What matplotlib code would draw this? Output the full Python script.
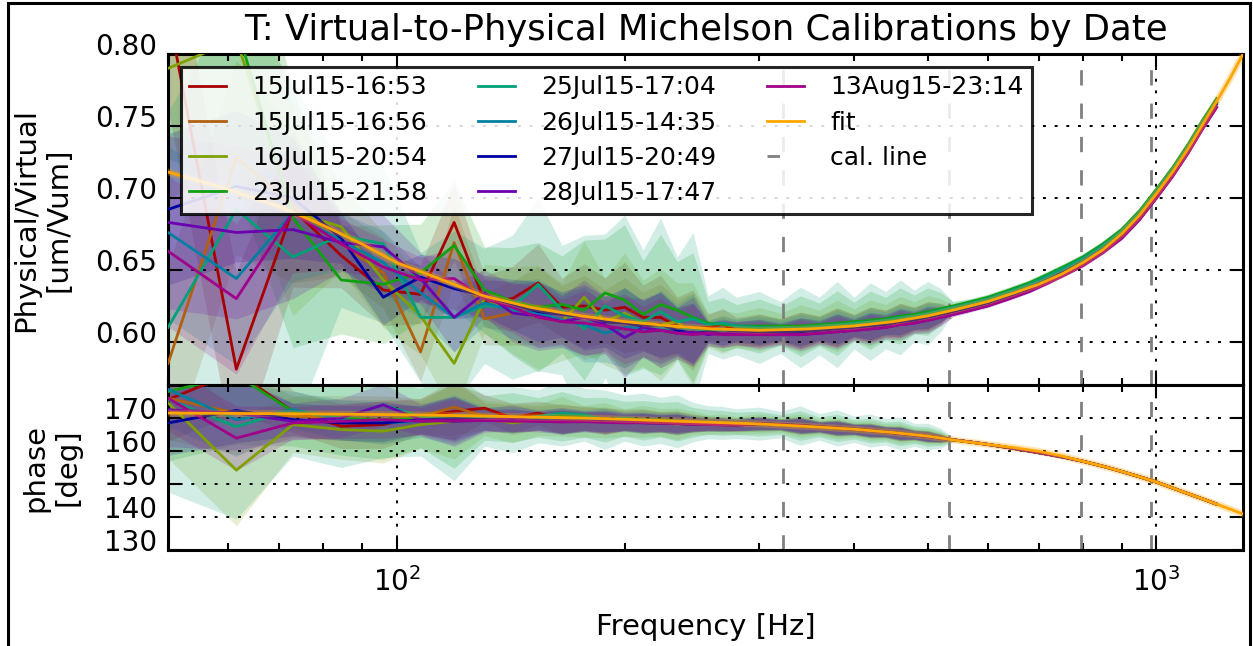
import numpy as np
import matplotlib
matplotlib.use('Agg')
import matplotlib.pyplot as plt
import matplotlib.transforms as mtransforms
from matplotlib.patches import Rectangle
from matplotlib.lines import Line2D

# measurement dates
labels = ['15Jul15-16:53', '15Jul15-16:56', '16Jul15-20:54', '23Jul15-21:58',
          '25Jul15-17:04', '26Jul15-14:35', '27Jul15-20:49', '28Jul15-17:47',
          '13Aug15-23:14']
colors = ['#a80000', '#b06010', '#80a000', '#10a010', '#00a078',
          '#0080a0', '#0000a0', '#6a00b0', '#a0008a']

# low frequency points, every run scatters here
freq_lo = [50, 61.5, 73, 84.5, 96, 107.5, 119, 130.5, 142, 153.5, 165, 176.5,
           188, 199.5, 211, 222.5, 234, 245.5, 257, 268.5, 280]

mag_1553 = [0.83, 0.581, 0.692, 0.660, 0.636, 0.633, 0.683, 0.628, 0.630, 0.641, 0.624,
            0.625, 0.622, 0.624, 0.617, 0.617, 0.611, 0.609, 0.610, 0.612, 0.608]
mag_1556 = [0.585, 0.728, 0.695, 0.668, 0.648, 0.593, 0.669, 0.616, 0.620, 0.625, 0.619,
            0.617, 0.614, 0.613, 0.612, 0.611, 0.609, 0.607, 0.606, 0.607, 0.606]
mag_2054 = [0.79, 0.81, 0.690, 0.680, 0.643, 0.618, 0.585, 0.630, 0.622, 0.617, 0.614,
            0.631, 0.614, 0.620, 0.613, 0.612, 0.614, 0.605, 0.608, 0.607, 0.608]
mag_2158 = [0.84, 0.82, 0.686, 0.643, 0.640, 0.648, 0.667, 0.636, 0.628, 0.624, 0.626,
            0.622, 0.634, 0.629, 0.619, 0.626, 0.622, 0.617, 0.613, 0.612, 0.611]
mag_1704 = [0.610, 0.692, 0.659, 0.674, 0.668, 0.617, 0.617, 0.625, 0.624, 0.640, 0.622,
            0.609, 0.625, 0.618, 0.614, 0.621, 0.614, 0.616, 0.612, 0.613, 0.611]
mag_1435 = [0.676, 0.644, 0.690, 0.670, 0.655, 0.634, 0.617, 0.627, 0.622, 0.620, 0.615,
            0.612, 0.606, 0.610, 0.609, 0.610, 0.608, 0.609, 0.607, 0.608, 0.608]
mag_2049 = [0.692, 0.708, 0.700, 0.672, 0.631, 0.645, 0.637, 0.632, 0.626, 0.621, 0.619,
            0.617, 0.614, 0.613, 0.611, 0.612, 0.608, 0.606, 0.607, 0.606, 0.607]
mag_1747 = [0.683, 0.676, 0.678, 0.669, 0.666, 0.644, 0.617, 0.634, 0.620, 0.618, 0.614,
            0.617, 0.612, 0.603, 0.610, 0.608, 0.606, 0.607, 0.605, 0.606, 0.606]
mag_2314 = [0.663, 0.630, 0.690, 0.668, 0.652, 0.643, 0.644, 0.630, 0.624, 0.617, 0.614,
            0.613, 0.611, 0.609, 0.607, 0.608, 0.606, 0.605, 0.606, 0.605, 0.605]

ph_1553 = [175.6, 184, 172, 167.5, 168, 170.5, 172, 173, 170, 171.5, 169.5,
           170, 169, 169.5, 169.2, 168.8, 168.5, 168.5, 168.3, 168.2, 168]
ph_1556 = [176, 171.5, 170.5, 170, 169.5, 170.5, 173.3, 170.5, 169.5, 170, 169.8,
           169.6, 169.3, 169, 168.9, 168.8, 168.6, 168.4, 168.3, 168.1, 168]
ph_2054 = [174.6, 154.2, 168, 166.5, 166, 168, 169, 170, 168.5, 169.5, 170.5,
           169, 169.3, 168.6, 169, 168.7, 168.2, 168.5, 168, 168.2, 167.8]
ph_2158 = [178, 183, 172, 170, 169.5, 170, 169, 170, 170.2, 170.2, 170.5,
           170.2, 169.5, 169.8, 169.3, 169.5, 169, 168.7, 168.8, 168.5, 168.4]
ph_1704 = [175.6, 167.4, 172.5, 170, 174, 170.5, 170, 170.5, 169.5, 170.5, 171.5,
           171, 169.5, 170, 169.5, 169.3, 169, 168.8, 168.7, 168.5, 168.3]
ph_1435 = [178.7, 169.5, 172.5, 169.5, 168.5, 169, 169.5, 169.8, 169.5, 169.5, 169,
           169.2, 169.4, 168.8, 168.7, 168.6, 168.4, 168.3, 168.2, 168, 167.9]
ph_2049 = [168.5, 172.3, 169.5, 168.5, 168.5, 169.5, 169.8, 169.5, 169.3, 169.2, 169,
           169.1, 168.9, 168.8, 168.6, 168.5, 168.4, 168.2, 168.1, 168, 167.8]
ph_1747 = [172.5, 171.5, 169, 170, 174, 169.5, 169, 169.3, 170, 169, 169.2,
           169, 168.8, 169, 168.5, 168.6, 168.3, 168.2, 168, 168.1, 167.9]
ph_2314 = [176, 163.9, 168.5, 169, 169.5, 169, 169.2, 169.3, 169, 169, 168.8,
           168.9, 168.7, 168.5, 168.6, 168.4, 168.3, 168.1, 168, 167.9, 167.8]

# higher frequencies, all runs sit on top of each other
freq_hi = [300, 320, 340, 360, 380, 400, 420, 440, 460, 480, 500, 520, 540, 570,
           600, 640, 680, 720, 760, 800, 850, 900, 950, 1000, 1050, 1100, 1150, 1200]
mag_hi = [0.608, 0.608, 0.608, 0.609, 0.610, 0.611, 0.612, 0.613, 0.615, 0.616,
          0.618, 0.620, 0.622, 0.625, 0.628, 0.633, 0.638, 0.644, 0.650, 0.656,
          0.665, 0.675, 0.688, 0.703, 0.718, 0.734, 0.751, 0.766]
ph_hi = [168.3, 168.0, 167.7, 167.3, 167.0, 166.6, 166.2, 165.8, 165.3, 164.9,
         164.4, 163.9, 163.4, 162.7, 162.0, 161.0, 160.0, 159.0, 158.0, 156.9,
         155.4, 153.8, 152.2, 150.6, 148.8, 147.1, 145.5, 143.9]
mag_offset = [0.000, 0.000, 0.001, 0.003, 0.002, 0.000, -0.001, -0.003, -0.003]

# uncertainty half widths (widest run), and how wide each run is relative to it
band_mag_lo = [0.15, 0.15, 0.12, 0.05, 0.055, 0.045, 0.06, 0.04, 0.05, 0.06, 0.045,
               0.065, 0.05, 0.07, 0.05, 0.065, 0.045, 0.06, 0.02, 0.025, 0.02]
band_mag_hi = [0.025, 0.018, 0.028, 0.02, 0.03, 0.018, 0.027, 0.02, 0.026, 0.018,
               0.022, 0.015, 0.004, 0.003, 0.003, 0.003, 0.003, 0.003, 0.003, 0.003,
               0.003, 0.003, 0.003, 0.003, 0.003, 0.003, 0.003, 0.003]
band_ph_lo = [28, 28, 14, 15, 16, 12, 19, 9, 10, 8, 10, 8, 9, 7, 8, 7, 8, 6, 5, 5, 4.5]
band_ph_hi = [5, 4, 6, 4, 5.5, 4, 5, 4, 5, 3.5, 4, 3, 0.6, 0.5, 0.5, 0.5, 0.5, 0.5,
              0.5, 0.5, 0.5, 0.5, 0.5, 0.5, 0.5, 0.5, 0.5, 0.5]
band_scale = [0.45, 0.45, 0.6, 0.75, 1.0, 0.4, 0.35, 0.4, 0.35]

# fitted model
fit_freq = [50, 60, 70, 80, 90, 100, 115, 130, 150, 175, 200, 230, 260, 300, 350, 400,
            450, 500, 550, 600, 650, 700, 750, 800, 850, 900, 950, 1000, 1050, 1100,
            1150, 1200, 1250, 1300]
fit_mag = [0.718, 0.706, 0.694, 0.681, 0.668, 0.655, 0.643, 0.632, 0.624, 0.618, 0.614,
           0.611, 0.609, 0.608, 0.609, 0.611, 0.614, 0.618, 0.623, 0.628, 0.634, 0.640,
           0.647, 0.655, 0.664, 0.675, 0.688, 0.703, 0.718, 0.734, 0.751, 0.767, 0.783,
           0.800]
fit_phase = [171.5, 171.4, 171.3, 171.2, 171.1, 171.0, 170.8, 170.6, 170.3, 170.0,
             169.6, 169.1, 168.7, 168.2, 167.4, 166.6, 165.6, 164.5, 163.1, 162.0,
             161.0, 159.9, 158.5, 156.9, 155.4, 153.8, 152.2, 150.6, 148.8, 147.1,
             145.5, 143.9, 142.4, 140.9]

cal_lines = [322, 534, 796, 984]

mags_lo = [mag_1553, mag_1556, mag_2054, mag_2158, mag_1704, mag_1435, mag_2049,
           mag_1747, mag_2314]
phs_lo = [ph_1553, ph_1556, ph_2054, ph_2158, ph_1704, ph_1435, ph_2049, ph_1747,
          ph_2314]

fig = plt.figure(figsize=(12.53, 6.46), dpi=100)
ax1 = fig.add_axes([0.1341, 0.404, 0.8579, 0.5124])
ax2 = fig.add_axes([0.1341, 0.1486, 0.8579, 0.2554], sharex=ax1)

freq = np.array(freq_lo + freq_hi)
bm = np.array(band_mag_lo + band_mag_hi)
bp = np.array(band_ph_lo + band_ph_hi)

for k in range(len(labels)):
    m = np.array(mags_lo[k] + [v + mag_offset[k] for v in mag_hi])
    p = np.array(phs_lo[k] + ph_hi)
    s = band_scale[k]
    ax1.fill_between(freq, m - bm * s, m + bm * s, color=colors[k], alpha=0.18, lw=0, zorder=1)
    ax2.fill_between(freq, p - bp * s, p + bp * s, color=colors[k], alpha=0.18, lw=0, zorder=1)

for ax in (ax1, ax2):
    for f in cal_lines:
        ax.axvline(f, color='gray', ls='--', dashes=(5.5, 6.5), lw=2, zorder=2)

handles = []
for k in range(len(labels)):
    m = mags_lo[k] + [v + mag_offset[k] for v in mag_hi]
    p = phs_lo[k] + ph_hi
    h, = ax1.plot(freq, m, color=colors[k], lw=2, label=labels[k], zorder=3)
    ax2.plot(freq, p, color=colors[k], lw=2, zorder=3)
    handles.append(h)

for ax, y in ((ax1, fit_mag), (ax2, fit_phase)):
    ax.plot(fit_freq, y, color='#ffa500', lw=5, alpha=0.3, zorder=4)
hf, = ax1.plot(fit_freq, fit_mag, color='#ffa500', lw=2, label='fit', zorder=4)
ax2.plot(fit_freq, fit_phase, color='#ffa500', lw=2, zorder=4)

# legend only shows one dash of the cal. line
hc = Line2D([], [], color='gray', lw=2, ls='--', dashes=(4.5, 20), label='cal. line')
handles += [hf, hc]

ax1.set_xscale('log')
ax1.set_xlim(50, 1300)
ax1.set_ylim(0.57, 0.80)
ax1.set_yticks([0.60, 0.65, 0.70, 0.75, 0.80])
ax1.set_yticklabels(['0.60', '0.65', '0.70', '0.75', '0.80'])
ax2.set_ylim(130, 180)
ax2.set_yticks([130, 140, 150, 160, 170])
plt.setp(ax1.get_xticklabels(), visible=False)

dots = (0, (1.5, 4.5))
for ax in (ax1, ax2):
    ax.grid(True, which='major', color='k', ls=dots, lw=1.4)
    ax.tick_params(which='both', direction='in', top=True, right=True, width=1.5)
    ax.tick_params(which='major', length=9, labelsize=20, pad=8)
    ax.tick_params(which='minor', length=5)
    for sp in ax.spines.values():
        sp.set_linewidth(2.2)
ax2.tick_params(axis='x', which='major', pad=12)

ax1.set_ylabel('Physical/Virtual\n[um/Vum]', fontsize=21, linespacing=1.2, labelpad=16)
ax2.set_ylabel('phase\n[deg]', fontsize=21, linespacing=1.2, labelpad=16)
ax2.set_xlabel('Frequency [Hz]', fontsize=21, labelpad=12)
ax1.set_title('T: Virtual-to-Physical Michelson Calibrations by Date', fontsize=25.5, pad=10)

# tick labels sit a little high, as in the original
shift = mtransforms.ScaledTranslation(0, 0.1, fig.dpi_scale_trans)
for ax in (ax1, ax2):
    for lab in ax.get_yticklabels():
        lab.set_transform(lab.get_transform() + shift)

leg = ax1.legend(handles=handles, ncol=3, loc='upper left', fontsize=18,
                 handlelength=1.45, handletextpad=1.06, columnspacing=2.05,
                 labelspacing=0.45, borderaxespad=0.5, borderpad=0.35, fancybox=False,
                 framealpha=0.85, edgecolor='k')
leg.get_frame().set_linewidth(2.2)
leg.set_zorder(10)

fig.patches.append(Rectangle((8 / 1253, -0.1), 1242 / 1253, 1 - 3 / 646 + 0.1,
                             transform=fig.transFigure, fill=False, ec='k', lw=2.2))

fig.savefig('out.png', dpi=100)
